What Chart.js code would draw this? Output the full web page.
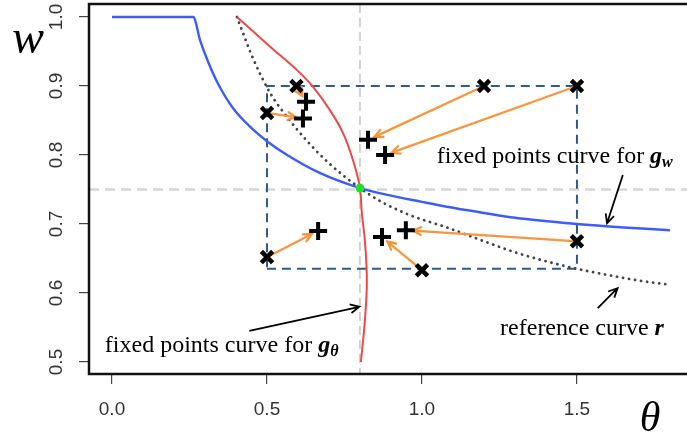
<!DOCTYPE html>
<html>
<head>
<meta charset="utf-8">
<script src="https://cdn.jsdelivr.net/npm/chart.js@4.4.1/dist/chart.umd.min.js"></script>
<style>
  html, body { margin: 0; padding: 0; background: #fff; }
</style>
</head>
<body>
<canvas id="myChart" width="687" height="440"></canvas>
<script>
// fixed points curve for g_w (blue)
var blueTheta = [0, 0.262, 0.285, 0.31, 0.34, 0.39, 0.445, 0.5, 0.565, 0.67, 0.8, 0.87, 1.0, 1.08, 1.2, 1.3, 1.5, 1.65, 1.8];
var blueW     = [1.0, 1.0, 0.965, 0.935, 0.905, 0.868, 0.841, 0.82, 0.80, 0.774, 0.752, 0.744, 0.732, 0.725, 0.716, 0.709, 0.70, 0.695, 0.691];

// fixed points curve for g_theta (red)
var redTheta = [0.403, 0.51, 0.597, 0.648, 0.703, 0.745, 0.777, 0.80, 0.806, 0.815, 0.821, 0.822, 0.819, 0.812, 0.803];
var redW     = [1.0, 0.957, 0.923, 0.899, 0.865, 0.832, 0.793, 0.752, 0.716, 0.68, 0.64, 0.61, 0.58, 0.54, 0.50];

// reference curve r (dotted)
var refTheta = [0.403, 0.455, 0.51, 0.565, 0.63, 0.70, 0.80, 0.87, 0.96, 1.08, 1.2, 1.3, 1.4, 1.5, 1.6, 1.7, 1.8];
var refCurveW = [1.0, 0.94, 0.89, 0.855, 0.82, 0.788, 0.752, 0.732, 0.713, 0.695, 0.675, 0.659, 0.646, 0.635, 0.626, 0.618, 0.612];

// starting points (x marks) and their images (+ marks); arrow i goes from cross i to plus i
var crossTheta = [0.595, 0.5, 1.2, 1.5, 0.5, 1.0, 1.5];
var crossW     = [0.90, 0.861, 0.90, 0.90, 0.652, 0.633, 0.675];
var plusTheta  = [0.626, 0.616, 0.826, 0.881, 0.665, 0.871, 0.948];
var plusW      = [0.877, 0.853, 0.822, 0.80, 0.69, 0.681, 0.691];

// fixed point, guide lines, dashed box
var fixTheta = [0.8];
var fixW = [0.752];
var guideTheta = 0.8;
var guideW = 0.75;
var boxTheta = [0.5, 1.5, 1.5, 0.5, 0.5];
var boxW     = [0.635, 0.635, 0.90, 0.90, 0.635];

// annotations: text, subscript, left/baseline position, arrow from -> to
var noteText  = ['fixed points curve for', 'fixed points curve for', 'reference curve'];
var noteMain  = ['g', 'g', 'r'];
var noteSub   = ['w', '\u03b8', ''];
var noteTheta = [1.048, -0.023, 1.252];
var noteW     = [0.788, 0.5145, 0.539];
var noteArrowFrom = [[1.648, 0.771], [0.443, 0.545], [1.567, 0.578]];
var noteArrowTo   = [[1.597, 0.701], [0.798, 0.58], [1.631, 0.607]];

// axes
var xTicks = [0.0, 0.5, 1.0, 1.5];
var yTicks = [0.5, 0.6, 0.7, 0.8, 0.9, 1.0];
var xMin = -0.0742, xMax = 1.855;
var yMin = 0.4826, yMax = 1.0188;

function pts(xs, ys) {
  return xs.map(function(v, i) { return { x: v, y: ys[i] }; });
}

function arrow(ctx, x1, y1, x2, y2, head, cutStart, cutEnd) {
  var ang = Math.atan2(y2 - y1, x2 - x1);
  var sx = x1 + Math.cos(ang) * cutStart, sy = y1 + Math.sin(ang) * cutStart;
  var ex = x2 - Math.cos(ang) * cutEnd, ey = y2 - Math.sin(ang) * cutEnd;
  ctx.beginPath();
  ctx.moveTo(sx, sy);
  ctx.lineTo(ex, ey);
  ctx.moveTo(ex - head * Math.cos(ang - 0.45), ey - head * Math.sin(ang - 0.45));
  ctx.lineTo(ex, ey);
  ctx.lineTo(ex - head * Math.cos(ang + 0.45), ey - head * Math.sin(ang + 0.45));
  ctx.stroke();
}

var extras = {
  id: 'extras',
  beforeDatasetsDraw: function(chart) {
    var ctx = chart.ctx, a = chart.chartArea, x = chart.scales.x, y = chart.scales.y;
    ctx.save();
    ctx.strokeStyle = '#d6d6d6';
    ctx.lineWidth = 2.5;
    ctx.setLineDash([10, 6]);
    var py = y.getPixelForValue(guideW);
    ctx.beginPath(); ctx.moveTo(a.left, py); ctx.lineTo(a.right, py); ctx.stroke();
    ctx.strokeStyle = '#b5b5b5';
    ctx.lineWidth = 1.2;
    ctx.setLineDash([9, 5]);
    var px = x.getPixelForValue(guideTheta);
    ctx.beginPath(); ctx.moveTo(px, a.top); ctx.lineTo(px, a.bottom); ctx.stroke();
    ctx.restore();
  },
  beforeDatasetDraw: function(chart, args) {
    if (chart.data.datasets[args.index].label !== 'start') return;
    var ctx = chart.ctx, x = chart.scales.x, y = chart.scales.y;
    ctx.save();
    ctx.strokeStyle = '#f7963f';
    ctx.lineWidth = 2.3;
    ctx.lineCap = 'round';
    for (var i = 0; i < crossTheta.length; i++) {
      arrow(ctx, x.getPixelForValue(crossTheta[i]), y.getPixelForValue(crossW[i]),
        x.getPixelForValue(plusTheta[i]), y.getPixelForValue(plusW[i]), 9, 3, 7);
    }
    ctx.restore();
  },
  afterDatasetsDraw: function(chart) {
    var ctx = chart.ctx, x = chart.scales.x, y = chart.scales.y;
    ctx.save();
    ctx.strokeStyle = '#000';
    ctx.fillStyle = '#000';
    ctx.lineWidth = 1.8;
    for (var i = 0; i < noteText.length; i++) {
      arrow(ctx, x.getPixelForValue(noteArrowFrom[i][0]), y.getPixelForValue(noteArrowFrom[i][1]),
        x.getPixelForValue(noteArrowTo[i][0]), y.getPixelForValue(noteArrowTo[i][1]), 10, 0, 0);
      var tx = x.getPixelForValue(noteTheta[i]), ty = y.getPixelForValue(noteW[i]);
      ctx.textAlign = 'left';
      ctx.textBaseline = 'alphabetic';
      ctx.font = '24px "Liberation Serif"';
      ctx.fillText(noteText[i], tx, ty);
      var w = ctx.measureText(noteText[i] + ' ').width;
      ctx.font = 'italic bold 24px "Liberation Serif"';
      ctx.fillText(noteMain[i], tx + w, ty);
      var w2 = ctx.measureText(noteMain[i]).width;
      if (noteSub[i]) {
        ctx.font = 'italic bold 16px "Liberation Serif"';
        ctx.fillText(noteSub[i], tx + w + w2, ty + 4);
      }
    }
    ctx.restore();
  },
  afterDraw: function(chart) {
    var ctx = chart.ctx, a = chart.chartArea, y = chart.scales.y;
    ctx.save();
    ctx.strokeStyle = '#111';
    ctx.lineWidth = 2.5;
    ctx.strokeRect(a.left, a.top, a.right - a.left + 10, a.bottom - a.top);
    ctx.fillStyle = '#333';
    ctx.font = '19px "Liberation Sans"';
    ctx.textAlign = 'center';
    ctx.textBaseline = 'middle';
    yTicks.forEach(function(v) {
      ctx.save();
      ctx.translate(57, y.getPixelForValue(v));
      ctx.rotate(-Math.PI / 2);
      ctx.fillText(v.toFixed(1), 0, 0);
      ctx.restore();
    });
    ctx.fillStyle = '#000';
    ctx.font = 'italic 48px "Liberation Serif"';
    ctx.fillText('w', 28, 40);
    ctx.font = 'italic 42px "Liberation Serif"';
    ctx.fillText('\u03b8', 650, 420);
    ctx.restore();
  }
};

var ctx = document.getElementById('myChart');
var myChart = new Chart(ctx, {
  type: 'scatter',
  data: {
    datasets: [
      {
        label: 'box', data: pts(boxTheta, boxW), showLine: true, order: 7,
        borderColor: '#2f5a90', borderWidth: 2, borderDash: [9, 6], pointRadius: 0, tension: 0
      },
      {
        label: 'reference curve r', data: pts(refTheta, refCurveW), showLine: true, order: 6,
        borderColor: '#444', borderWidth: 2.8, borderDash: [0.1, 6], borderCapStyle: 'round',
        pointRadius: 0, cubicInterpolationMode: 'monotone'
      },
      {
        label: 'g_w', data: pts(blueTheta, blueW), showLine: true, order: 5,
        borderColor: '#3d5cff', borderWidth: 2.4, pointRadius: 0, cubicInterpolationMode: 'monotone'
      },
      {
        label: 'g_theta', data: pts(redTheta, redW), showLine: true, order: 4,
        borderColor: '#f04848', borderWidth: 2, pointRadius: 0, tension: 0.25
      },
      {
        label: 'fixed', data: pts(fixTheta, fixW), order: 3,
        pointRadius: 4.5, backgroundColor: '#22e02a', borderColor: '#22e02a', borderWidth: 0
      },
      {
        label: 'start', data: pts(crossTheta, crossW), order: 2,
        pointStyle: 'crossRot', pointRadius: 8, borderColor: '#000', borderWidth: 4.5
      },
      {
        label: 'image', data: pts(plusTheta, plusW), order: 1,
        pointStyle: 'cross', pointRadius: 9, borderColor: '#000', borderWidth: 4
      }
    ]
  },
  options: {
    responsive: false,
    animation: false,
    layout: { padding: { top: 4, left: 0, right: 0, bottom: 0 }, autoPadding: false },
    plugins: { legend: { display: false }, tooltip: { enabled: false } },
    scales: {
      x: {
        type: 'linear', min: xMin, max: xMax,
        afterBuildTicks: function(s) { s.ticks = xTicks.map(function(v) { return { value: v }; }); },
        afterFit: function(s) { s.height = 66; s.paddingLeft = 0; s.paddingRight = 0; },
        ticks: {
          color: '#333', padding: 14, font: { family: 'Liberation Sans', size: 19 },
          callback: function(v) { return Number(v).toFixed(1); }
        },
        grid: { drawOnChartArea: false, drawTicks: true, tickLength: 10, color: '#444', lineWidth: 1.2 },
        border: { display: false }
      },
      y: {
        type: 'linear', min: yMin, max: yMax,
        afterBuildTicks: function(s) { s.ticks = yTicks.map(function(v) { return { value: v }; }); },
        afterFit: function(s) { s.width = 89; s.paddingTop = 0; s.paddingBottom = 0; },
        ticks: { display: false },
        grid: { drawOnChartArea: false, drawTicks: true, tickLength: 10, color: '#444', lineWidth: 1.2 },
        border: { display: false }
      }
    }
  },
  plugins: [extras]
});
</script>
</body>
</html>
